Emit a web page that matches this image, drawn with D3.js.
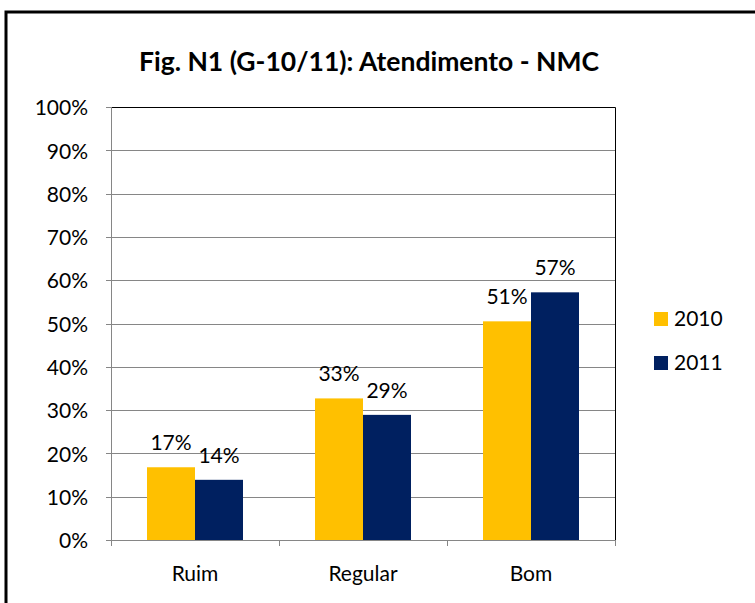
<!DOCTYPE html>
<html lang="pt">
<head>
    <meta charset="UTF-8">
    <title>Fig. N1 (G-10/11): Atendimento - NMC</title>
    <style>
        body { margin: 0; background: #fff; }
        text { font-family: Lato, "Open Sans", sans-serif; fill: #000; }
    </style>
</head>
<body>
<div id="chart"></div>

<script src="https://d3js.org/d3.v7.min.js"></script>
<script>
    // data
    var categories = ["Ruim", "Regular", "Bom"];
    var seriesNames = ["2010", "2011"];
    var values2010 = [0.168, 0.327, 0.505];
    var values2011 = [0.139, 0.289, 0.572];
    var yTicks = [0, 0.1, 0.2, 0.3, 0.4, 0.5, 0.6, 0.7, 0.8, 0.9, 1];
    var colors = ["#FFC000", "#002060"];

    var W = 755, H = 603;
    var plot = {left: 111, right: 615, top: 107, bottom: 540};
    var fs = 21;

    var svg = d3.select("#chart").append("svg")
        .attr("width", W)
        .attr("height", H);

    // outer frame (cut off at right and bottom like the original)
    svg.append("rect")
        .attr("x", 6).attr("y", 12)
        .attr("width", W + 10).attr("height", H + 10)
        .attr("fill", "#fff")
        .attr("stroke", "#000")
        .attr("stroke-width", 3);

    svg.append("text")
        .attr("x", 369).attr("y", 71)
        .attr("text-anchor", "middle")
        .attr("font-weight", "bold")
        .attr("font-size", 26.5)
        .text("Fig. N1 (G-10/11): Atendimento - NMC");

    var x0 = d3.scaleBand()
        .domain(categories)
        .range([plot.left, plot.right])
        .paddingInner(0).paddingOuter(0);

    // gap width 150% -> bars take 96 of 168
    var x1 = d3.scaleBand()
        .domain(seriesNames)
        .range([0, x0.bandwidth()])
        .paddingInner(0)
        .paddingOuter(0.75);

    var y = d3.scaleLinear()
        .domain([0, 1])
        .range([plot.bottom, plot.top]);

    // gridlines
    svg.append("g")
        .selectAll("line")
        .data(yTicks)
        .enter().append("line")
        .attr("x1", plot.left - 5).attr("x2", plot.right)
        .attr("y1", function(d) { return Math.round(y(d)) + 0.5; })
        .attr("y2", function(d) { return Math.round(y(d)) + 0.5; })
        .attr("stroke", "#868686")
        .attr("stroke-width", 1);

    // plot area top / right edge
    svg.append("path")
        .attr("d", "M" + plot.left + "," + (plot.top + 0.5) + "H" + (plot.right + 0.5) + "V" + plot.bottom)
        .attr("fill", "none")
        .attr("stroke", "#000")
        .attr("stroke-width", 1);

    // y axis
    var yAxis = d3.axisLeft(y)
        .tickValues(yTicks)
        .tickSize(0)
        .tickPadding(23)
        .tickFormat(d3.format(".0%"));

    var gy = svg.append("g")
        .attr("transform", "translate(" + plot.left + ",1)")
        .call(yAxis);
    gy.select(".domain").remove();
    gy.selectAll("text")
        .attr("font-size", fs)
        .attr("font-family", "Lato, 'Open Sans', sans-serif")
        .attr("fill", "#000");

    svg.append("line")
        .attr("x1", plot.left + 0.5).attr("x2", plot.left + 0.5)
        .attr("y1", plot.top).attr("y2", plot.bottom)
        .attr("stroke", "#868686");

    // x axis
    var gx = svg.append("g")
        .attr("transform", "translate(0," + plot.bottom + ")")
        .call(d3.axisBottom(x0).tickSize(0).tickPadding(26));
    gx.select(".domain").remove();
    gx.selectAll("text")
        .attr("font-size", fs)
        .attr("font-family", "Lato, 'Open Sans', sans-serif")
        .attr("fill", "#000");

    svg.append("line")
        .attr("x1", plot.left).attr("x2", plot.right)
        .attr("y1", plot.bottom + 0.5).attr("y2", plot.bottom + 0.5)
        .attr("stroke", "#868686");

    var bounds = [plot.left].concat(categories.map(function(c) { return x0(c) + x0.bandwidth(); }));
    svg.append("g")
        .selectAll("line")
        .data(bounds)
        .enter().append("line")
        .attr("x1", function(d) { return Math.round(d) + 0.5; })
        .attr("x2", function(d) { return Math.round(d) + 0.5; })
        .attr("y1", plot.bottom).attr("y2", plot.bottom + 6)
        .attr("stroke", "#868686");

    // bars
    var series = [values2010, values2011];
    var fmt = d3.format(".0%");
    series.forEach(function(vals, si) {
        var g = svg.append("g");
        g.selectAll("rect")
            .data(vals)
            .enter().append("rect")
            .attr("x", function(d, i) { return x0(categories[i]) + x1(seriesNames[si]); })
            .attr("y", function(d) { return y(d); })
            .attr("width", x1.bandwidth())
            .attr("height", function(d) { return plot.bottom - y(d); })
            .attr("fill", colors[si]);

        g.selectAll("text")
            .data(vals)
            .enter().append("text")
            .attr("x", function(d, i) { return x0(categories[i]) + x1(seriesNames[si]) + x1.bandwidth() / 2; })
            .attr("y", function(d) { return y(d) - 17; })
            .attr("text-anchor", "middle")
            .attr("font-size", fs)
            .text(function(d) { return fmt(d); });
    });

    // legend
    var legend = svg.append("g")
        .selectAll("g")
        .data(seriesNames)
        .enter().append("g")
        .attr("transform", function(d, i) { return "translate(654," + (312 + i * 44) + ")"; });
    legend.append("rect")
        .attr("width", 14).attr("height", 14)
        .attr("fill", function(d, i) { return colors[i]; });
    legend.append("text")
        .attr("x", 20).attr("y", 14)
        .attr("font-size", fs)
        .text(function(d) { return d; });
</script>
</body>
</html>
